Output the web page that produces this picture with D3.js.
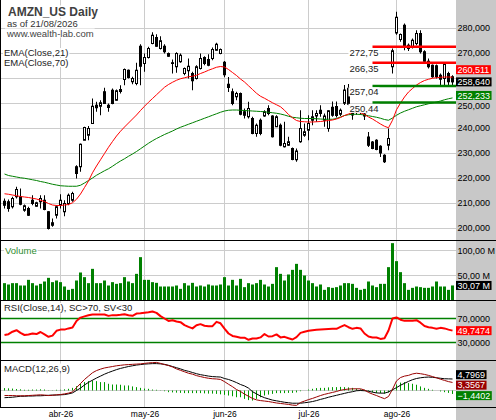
<!DOCTYPE html>
<html lang="en">
<head>
<meta charset="UTF-8">
<title>AMZN_US Daily</title>
<style>
  body { margin: 0; background: #fff; }
  svg { display: block; font-family: "Liberation Sans", Arial, sans-serif; }
</style>
<script src="https://d3js.org/d3.v7.min.js"></script>
</head>
<body>
<svg width="496" height="420"></svg>
<script>
// trading days shown on the chart
const dates = [
  "2026-03-12","2026-03-13","2026-03-16","2026-03-17","2026-03-18","2026-03-19","2026-03-20","2026-03-23","2026-03-24","2026-03-25",
  "2026-03-26","2026-03-27","2026-03-30","2026-03-31","2026-04-01","2026-04-02","2026-04-06","2026-04-07","2026-04-08","2026-04-09",
  "2026-04-10","2026-04-13","2026-04-14","2026-04-15","2026-04-16","2026-04-17","2026-04-20","2026-04-21","2026-04-22","2026-04-23",
  "2026-04-24","2026-04-27","2026-04-28","2026-04-29","2026-04-30","2026-05-01","2026-05-04","2026-05-05","2026-05-06","2026-05-07",
  "2026-05-08","2026-05-11","2026-05-12","2026-05-13","2026-05-14","2026-05-15","2026-05-18","2026-05-19","2026-05-20","2026-05-21",
  "2026-05-22","2026-05-26","2026-05-27","2026-05-28","2026-05-29","2026-06-01","2026-06-02","2026-06-03","2026-06-04","2026-06-05",
  "2026-06-08","2026-06-09","2026-06-10","2026-06-11","2026-06-12","2026-06-15","2026-06-16","2026-06-17","2026-06-18","2026-06-22",
  "2026-06-23","2026-06-24","2026-06-25","2026-06-26","2026-06-29","2026-06-30","2026-07-01","2026-07-02","2026-07-06","2026-07-07",
  "2026-07-08","2026-07-09","2026-07-10","2026-07-13","2026-07-14","2026-07-15","2026-07-16","2026-07-17","2026-07-20","2026-07-21",
  "2026-07-22","2026-07-23","2026-07-24","2026-07-27","2026-07-28","2026-07-29","2026-07-30","2026-07-31","2026-08-03","2026-08-04",
  "2026-08-05","2026-08-06","2026-08-07","2026-08-10","2026-08-11","2026-08-12","2026-08-13","2026-08-14","2026-08-17","2026-08-18",
  "2026-08-19","2026-08-20","2026-08-21"
];

const open = [
  210.9,210.7,208.7,212.7,212.7,207.3,208.0,211.3,208.9,210.7,
  211.3,206.7,202.3,205.3,209.3,206.7,210.0,211.3,224.7,224.7,
  235.3,237.3,242.0,249.3,248.9,254.7,249.3,255.3,251.3,255.6,
  259.6,263.3,258.7,258.0,272.9,266.0,268.4,274.0,276.4,272.0,
  272.9,270.0,266.3,264.7,266.7,262.0,263.1,262.0,260.0,264.0,
  268.4,267.6,268.0,271.3,270.0,266.5,257.7,254.7,252.7,254.0,
  246.7,244.7,244.0,238.0,243.3,245.0,248.0,245.0,240.7,241.3,
  232.7,233.3,232.0,227.5,234.7,237.3,239.3,243.3,245.0,247.3,
  243.3,240.0,248.5,248.8,245.7,250.1,256.1,246.1,246.5,247.5,
  245.8,236.6,234.6,235.3,232.9,229.3,233.3,264.7,278.2,275.6,
  281.3,273.3,272.7,274.0,278.0,270.7,266.9,265.3,265.1,261.3,
  260.0,262.0,260.7
];
const high = [
  212.0,211.6,212.7,216.7,216.0,209.6,208.7,213.3,210.7,213.3,
  213.3,206.9,204.0,209.3,213.7,211.3,214.0,214.7,225.3,234.0,
  240.7,241.0,252.0,250.7,251.3,256.3,250.0,256.0,255.6,257.3,
  264.0,263.6,260.7,266.3,273.7,270.0,272.7,278.5,277.7,276.9,
  273.7,270.4,267.6,270.5,270.0,264.4,268.0,262.7,265.3,270.0,
  268.9,269.7,272.4,274.3,272.0,267.0,260.6,256.0,254.7,254.4,
  248.0,250.7,244.7,242.0,244.0,247.3,249.3,245.3,245.3,242.0,
  242.7,236.7,232.4,232.0,247.3,242.0,245.3,247.3,247.3,249.3,
  246.0,247.3,250.8,250.8,248.0,257.4,257.8,247.5,248.5,248.5,
  246.1,238.6,235.0,235.7,233.3,229.7,240.0,272.0,286.7,278.0,
  282.0,274.0,276.0,279.3,279.3,271.3,268.0,265.6,265.6,262.0,
  266.0,262.7,261.3
];
const low = [
  208.0,206.7,208.0,212.0,209.3,206.7,205.0,209.3,208.7,208.0,
  207.3,199.6,200.7,204.0,208.0,204.9,209.3,210.7,220.0,222.7,
  235.3,235.3,242.0,246.7,245.3,250.0,246.7,249.7,251.1,254.0,
  257.3,260.0,257.7,257.3,257.3,262.7,268.0,273.7,272.7,271.6,
  270.0,268.7,262.0,262.3,266.3,261.3,260.0,255.3,259.6,263.6,
  265.3,264.9,267.3,271.1,269.7,260.5,254.6,249.3,251.3,245.3,
  244.0,244.0,237.7,236.7,237.3,244.7,245.3,236.4,240.7,232.9,
  232.4,233.0,227.3,226.7,234.3,236.7,235.3,241.3,242.7,244.7,
  240.7,238.7,244.7,244.4,245.0,249.4,249.3,243.5,245.5,245.5,
  243.4,232.6,231.7,231.3,228.6,226.2,231.3,262.0,277.5,274.7,
  271.3,271.0,272.0,273.3,270.0,266.7,264.0,260.3,260.0,256.7,
  257.3,256.7,257.3
];
const close = [
  209.3,208.0,212.0,215.6,209.7,209.1,205.3,210.0,210.3,212.0,
  207.6,200.0,201.3,208.7,211.3,210.0,213.3,214.0,222.0,233.7,
  240.4,240.0,248.9,248.3,250.3,250.0,248.4,250.0,255.1,254.8,
  263.6,260.4,260.0,263.3,264.9,268.4,272.0,277.3,272.9,275.1,
  270.7,268.9,266.0,270.0,269.3,264.0,264.9,259.1,264.7,268.0,
  266.0,265.3,271.6,273.7,271.6,261.5,256.4,250.0,254.0,245.7,
  245.3,248.0,238.0,241.3,238.0,246.7,246.0,236.7,244.7,233.3,
  234.0,234.7,227.6,231.0,240.0,238.7,242.0,244.7,246.0,246.0,
  245.0,247.1,245.3,245.2,247.3,255.4,249.7,245.4,247.5,246.7,
  245.0,233.3,232.0,231.6,230.2,226.7,236.0,271.1,284.5,277.6,
  272.7,272.0,275.3,278.0,270.7,266.9,264.7,260.7,260.7,259.7,
  265.6,258.7,258.64
];
// millions of shares
const volume = [
  34.7,32.0,34.7,34.7,30.0,30.0,41.3,34.7,30.0,33.3,
  38.0,45.3,36.7,40.0,36.7,28.0,21.3,23.3,40.0,56.0,
  46.7,34.7,63.3,34.7,34.7,40.0,30.0,36.7,33.3,34.7,
  46.7,38.0,34.7,53.3,86.7,41.3,41.3,36.7,35.3,28.0,
  28.0,28.0,28.0,30.0,23.3,34.7,30.0,35.3,28.0,30.0,
  28.0,32.0,30.0,30.0,32.0,46.7,30.0,41.3,30.0,43.3,
  26.7,34.7,32.0,34.7,41.3,32.0,28.0,33.3,66.7,53.3,
  40.0,52.0,61.3,73.3,61.3,50.0,40.0,34.7,28.0,32.0,
  21.3,26.7,25.3,26.7,30.0,34.7,34.7,33.3,25.3,21.3,
  23.3,38.0,30.0,26.7,33.3,33.3,66.7,114.7,78.7,56.7,
  34.7,21.3,25.3,28.0,26.7,25.3,25.3,28.0,38.0,28.0,
  28.0,21.3,30.07
];
const ema21 = [
  213.9,213.7,213.4,213.1,212.8,212.6,212.4,212.1,211.8,211.3,
  210.8,210.0,209.4,209.2,209.2,209.4,209.6,210.3,211.7,213.8,
  216.4,219.0,222.3,225.0,227.5,230.0,232.5,234.8,237.0,238.9,
  240.6,242.2,243.8,245.4,247.2,248.9,250.5,252.0,253.5,255.0,
  256.5,257.6,258.5,259.3,259.9,260.3,260.7,260.9,261.3,262.0,
  262.6,263.3,263.9,264.5,264.8,264.6,263.6,262.4,261.2,259.8,
  258.6,257.1,255.6,254.1,252.9,252.1,251.2,250.3,249.5,248.7,
  247.3,245.6,244.3,243.2,242.8,242.7,242.6,242.6,242.7,242.8,
  243.0,243.2,243.4,243.8,244.4,245.2,245.8,246.4,246.5,246.3,
  245.6,244.6,243.8,242.8,241.8,240.9,240.3,243.3,247.5,250.2,
  252.6,254.6,256.0,257.4,258.4,259.2,259.7,260.1,260.3,260.5,
  260.6,260.6,260.511
];
const ema70 = [
  221.8,221.2,220.9,220.6,220.3,220.1,219.8,219.5,219.2,218.8,
  218.5,218.1,217.7,217.4,217.1,217.0,216.9,216.9,216.9,217.3,
  218.2,219.2,220.2,221.3,222.2,223.1,223.9,224.9,226.0,227.0,
  227.9,228.9,229.8,230.8,231.9,233.0,234.1,235.1,236.0,236.8,
  237.6,238.3,239.0,239.8,240.5,241.1,241.7,242.3,242.9,243.5,
  244.1,244.7,245.3,245.9,246.5,247.0,247.3,247.4,247.4,247.3,
  247.2,247.1,247.0,246.9,246.8,246.7,246.5,246.3,246.1,245.8,
  245.4,244.9,244.5,244.3,244.1,244.0,244.0,244.0,243.9,243.8,
  243.7,243.7,243.7,244.0,244.6,245.2,245.5,245.7,245.7,245.6,
  245.4,245.1,244.8,244.5,244.1,243.6,243.3,244.2,245.3,246.2,
  246.9,247.5,248.1,248.7,249.1,249.5,249.9,250.2,250.6,251.0,
  251.5,251.9,252.233
];
const rsi = [
  42.5,43.9,48.0,50.5,46.0,42.5,43.5,45.0,44.0,47.5,
  43.5,39.5,41.5,49.5,51.5,51.5,53.5,55.0,66.0,71.5,
  73.5,75.5,76.7,76.7,76.7,76.7,74.4,75.6,75.5,76.1,
  77.0,75.5,74.4,78.3,78.6,79.5,80.5,81.7,79.4,74.0,
  70.0,66.0,67.0,65.0,63.9,59.0,56.1,53.5,58.9,60.6,
  58.0,57.2,57.2,64.4,62.0,53.3,45.0,41.0,39.7,38.0,
  38.0,34.5,36.7,36.7,38.5,44.0,40.0,40.5,43.5,38.5,
  39.4,37.0,35.0,39.0,46.0,47.8,49.5,50.6,51.3,51.7,
  52.2,52.5,52.8,52.8,56.0,59.0,55.5,52.8,54.4,53.5,
  45.0,40.0,38.3,38.3,36.0,37.0,50.0,70.0,71.7,68.0,
  66.1,66.1,66.1,67.2,63.0,57.5,55.5,54.4,53.0,54.4,
  53.5,51.5,49.7474
];
const macd = [
  -2.1,-2.1,-2.1,-2.2,-2.2,-2.2,-2.1,-2.0,-1.9,-1.8,
  -1.9,-2.1,-2.0,-1.8,-1.7,-1.4,-1.1,-0.6,1.2,2.9,
  4.6,6.0,7.4,8.3,8.9,9.4,9.7,10.0,10.3,10.5,
  10.7,10.8,10.9,11.0,11.1,11.3,11.5,11.6,11.7,11.3,
  10.8,10.4,9.8,9.0,8.4,7.8,7.2,6.8,6.2,5.8,
  5.4,5.1,4.9,4.8,4.6,3.7,2.6,1.6,0.4,-0.4,
  -1.5,-2.4,-3.3,-3.9,-4.2,-4.4,-4.6,-4.9,-5.2,-5.4,
  -5.6,-5.8,-6.1,-6.2,-5.0,-4.4,-3.8,-3.3,-2.7,-2.1,
  -1.6,-1.2,-0.8,-0.4,0.1,0.4,0.6,0.7,0.7,0.7,
  0.2,-0.8,-1.5,-2.1,-2.8,-3.4,-2.5,0.5,4.0,5.4,
  6.0,6.3,6.9,7.2,7.0,6.7,6.3,5.8,5.3,4.7,
  4.2,3.7,3.3567
];
const macdSignal = [
  -3.0,-2.9,-2.8,-2.6,-2.4,-2.4,-2.3,-2.3,-2.2,-2.2,
  -2.1,-2.0,-1.9,-1.9,-1.8,-1.7,-1.4,-1.0,0.0,1.0,
  2.3,3.4,4.3,5.2,6.0,6.8,7.5,8.1,8.7,9.2,
  9.6,10.0,10.3,10.6,10.8,11.0,11.1,11.2,11.2,11.1,
  10.9,10.5,10.0,9.5,9.0,8.4,8.0,7.5,7.0,6.6,
  6.3,6.0,5.8,5.7,5.6,5.0,4.6,4.0,3.3,2.5,
  1.9,1.0,-0.5,-1.4,-2.3,-3.0,-3.5,-4.0,-4.3,-4.6,
  -4.9,-5.1,-5.3,-5.3,-5.3,-5.1,-4.9,-4.6,-4.2,-3.7,
  -3.3,-2.8,-2.4,-2.0,-1.6,-1.2,-0.8,-0.5,-0.1,0.0,
  -0.1,-0.3,-0.7,-1.0,-1.1,-1.1,-0.6,0.3,1.2,2.2,
  3.0,3.8,4.5,5.0,5.3,5.5,5.6,5.5,5.3,5.1,
  4.9,4.85,4.7969
];
const macdHist = [
  1.0,0.9,0.8,0.6,0.5,0.3,0.3,0.4,0.4,0.5,
  0.4,0.1,0.1,0.3,0.3,0.5,0.7,1.1,1.8,2.8,
  3.5,3.9,4.2,3.9,3.5,3.5,2.8,2.5,2.5,2.4,
  2.1,2.1,1.7,1.4,1.1,0.8,0.7,0.4,0.3,0.1,
  -0.3,-0.7,-0.8,-0.9,-1.0,-1.1,-1.1,-1.1,-1.1,-1.1,
  -1.2,-1.3,-1.3,-1.4,-1.6,-1.8,-2.1,-2.4,-2.8,-2.8,
  -3.5,-4.0,-4.2,-3.5,-2.8,-2.1,-1.7,-1.4,-1.1,-1.1,
  -1.1,-1.0,-1.0,-0.8,-0.3,0.0,0.4,0.7,1.0,1.1,
  1.1,1.3,1.4,1.4,1.5,1.4,1.3,1.1,0.8,0.5,
  0.3,-0.4,-0.7,-1.0,-1.1,-1.3,-0.8,0.7,2.5,3.3,
  3.5,3.1,2.8,2.4,1.7,1.1,0.7,0.3,0.0,-0.4,
  -0.7,-1.0,-1.4402
];

// support / resistance levels drawn on the right
const levels = [272.75, 266.35, 257.04, 250.44];
const levelColors = ["#ff0000", "#ff0000", "#008000", "#008000"];
const levelFrom = "2026-07-24";

// axis ticks
const priceTicks = [200, 210, 220, 230, 240, 250, 260, 270, 280];
const volumeTicks = [50, 100];
const rsiTicks = [30, 70];
const monthTicks = ["2026-04-01", "2026-05-01", "2026-06-01", "2026-07-01", "2026-08-03"];
const monthLabels = ["abr-26", "may-26", "jun-26", "jul-26", "ago-26"];

[open, high, low, close, volume, ema21, ema70, rsi, macd, macdSignal, macdHist].forEach((a, k) => {
  if (a.length !== dates.length) throw new Error("series " + k + " has " + a.length + " values, expected " + dates.length);
});

const W = 496, H = 420;
const plotRight = 456;
const panels = {
  price: [0, 240.5],
  volume: [240.5, 300.5],
  rsi: [300.5, 360.5],
  macd: [360.5, 407.5]
};
const gridColor = "#cccccc";
const loc = d3.formatLocale({decimal: ",", thousands: ".", grouping: [3], currency: ["", ""]});
const f3 = loc.format(".3f"), f2 = loc.format(".2f"), f4 = loc.format(".4f");

const svg = d3.select("svg").attr("width", W).attr("height", H);

const x = d3.scalePoint().domain(dates).range([4.5, 452.5]);
const y = d3.scaleLinear().domain([200, 280]).range([228.5, 28.5]);
const yVol = d3.scaleLinear().domain([0, 100]).range([300.5, 250.5]);
const yRsi = d3.scaleLinear().domain([0, 100]).range([360.5, 300.5]);
const yMacd = d3.scaleLinear().domain([0, 5]).range([390.5, 378.5]);

svg.append("rect").attr("width", W).attr("height", H).attr("fill", "#fff");
svg.append("rect").attr("x", plotRight).attr("y", 0).attr("width", W - plotRight).attr("height", H).attr("fill", "#c8c8c8");

Object.entries(panels).forEach(([k, [t, b]]) => {
  svg.append("clipPath").attr("id", "clip-" + k)
    .append("rect").attr("x", 0).attr("y", t).attr("width", plotRight).attr("height", b - t);
});

// vertical month gridlines
svg.append("g").selectAll("line").data(monthTicks).join("line")
  .attr("x1", d => x(d)).attr("x2", d => x(d))
  .attr("y1", 0).attr("y2", panels.macd[1])
  .attr("stroke", gridColor);

// horizontal gridlines
const hgrid = svg.append("g").attr("stroke", gridColor);
hgrid.selectAll(".p").data(priceTicks).join("line").attr("class", "p")
  .attr("x1", 0).attr("x2", plotRight).attr("y1", d => y(d)).attr("y2", d => y(d));
hgrid.selectAll(".v").data(volumeTicks).join("line").attr("class", "v")
  .attr("x1", 0).attr("x2", plotRight).attr("y1", d => yVol(d)).attr("y2", d => yVol(d));
hgrid.append("line").attr("x1", 0).attr("x2", plotRight).attr("y1", yMacd(0)).attr("y2", yMacd(0));

// ---- price panel
const gPrice = svg.append("g").attr("clip-path", "url(#clip-price)");
const candle = gPrice.selectAll("g.c").data(dates).join("g").attr("class", "c");
candle.append("line")
  .attr("x1", d => x(d)).attr("x2", d => x(d))
  .attr("y1", (d, i) => y(high[i])).attr("y2", (d, i) => y(low[i]))
  .attr("stroke", "#000");
candle.append("rect")
  .attr("x", d => x(d) - 1).attr("width", 2)
  .attr("y", (d, i) => y(Math.max(open[i], close[i])))
  .attr("height", (d, i) => Math.max(0.5, Math.abs(y(open[i]) - y(close[i]))))
  .attr("fill", (d, i) => close[i] >= open[i] ? "#fff" : "#000")
  .attr("stroke", "#000");

const lineOf = (arr, sc) => d3.line().x((d, i) => x(dates[i])).y(d => sc(d))(arr);
gPrice.append("path").attr("d", lineOf(ema70, y)).attr("fill", "none").attr("stroke", "#008000");
gPrice.append("path").attr("d", lineOf(ema21, y)).attr("fill", "none").attr("stroke", "#ff0000");

// levels
levels.forEach((v, k) => {
  gPrice.append("line")
    .attr("x1", x(levelFrom)).attr("x2", plotRight)
    .attr("y1", y(v)).attr("y2", y(v))
    .attr("stroke", levelColors[k]).attr("stroke-width", 2.5);
});

// ---- volume panel
svg.append("g").attr("clip-path", "url(#clip-volume)")
  .selectAll("rect").data(dates).join("rect")
  .attr("x", d => x(d) - 1.5).attr("width", 3)
  .attr("y", (d, i) => yVol(volume[i]))
  .attr("height", (d, i) => yVol(0) - yVol(volume[i]))
  .attr("fill", "#008000");

// ---- RSI panel
const gRsi = svg.append("g").attr("clip-path", "url(#clip-rsi)");
gRsi.selectAll("line").data(rsiTicks).join("line")
  .attr("x1", 0).attr("x2", plotRight).attr("y1", d => yRsi(d)).attr("y2", d => yRsi(d))
  .attr("stroke", "#008000").attr("stroke-width", 1.5);
gRsi.append("path").attr("d", lineOf(rsi, yRsi)).attr("fill", "none")
  .attr("stroke", "#ff0000").attr("stroke-width", 2).attr("stroke-linejoin", "round");

// ---- MACD panel
const gMacd = svg.append("g").attr("clip-path", "url(#clip-macd)");
gMacd.selectAll("line").data(dates).join("line")
  .attr("x1", d => x(d)).attr("x2", d => x(d))
  .attr("y1", yMacd(0)).attr("y2", (d, i) => yMacd(macdHist[i]))
  .attr("stroke", "#009900");
gMacd.append("path").attr("d", lineOf(macdSignal, yMacd)).attr("fill", "none").attr("stroke", "#000");
gMacd.append("path").attr("d", lineOf(macd, yMacd)).attr("fill", "none").attr("stroke", "#990000");

// ---- labels with white backing
function label(xp, yp, txt, opts = {}) {
  const g = svg.append("g");
  const r = g.append("rect").attr("fill", "#fff");
  const t = g.append("text").attr("x", xp).attr("y", yp)
    .attr("font-size", opts.size || 9.5)
    .attr("font-weight", opts.weight || "normal")
    .attr("text-anchor", opts.anchor || "start")
    .attr("fill", opts.color || "#222").text(txt);
  const b = t.node().getBBox();
  r.attr("x", b.x - 1).attr("y", b.y + 1).attr("width", b.width + 2).attr("height", b.height - 2);
}
label(8, 15.5, "AMZN_US Daily", {size: 12, weight: "bold", color: "#404040"});
label(7, 26.5, "as of 21/08/2026", {color: "#333"});
label(7, 36.5, "www.wealth-lab.com", {color: "#444"});
label(4, 56, "EMA(Close,21)");
label(4, 66, "EMA(Close,70)");
label(5, 253.5, "Volume", {color: "#2e8b2e"});
label(4, 311, "RSI(Close,14), SC>70, SV<30");
label(4, 371.5, "MACD(12,26,9)");
levels.forEach(v => label(x(levelFrom) + 6, y(v) + 9.5, loc.format(".2f")(v), {anchor: "end"}));

// ---- panel borders
const borders = svg.append("g").attr("stroke", "#000");
[panels.price[1], panels.volume[1], panels.rsi[1], panels.macd[1]].forEach(v => {
  borders.append("line").attr("x1", 0).attr("x2", W).attr("y1", v).attr("y2", v);
});
borders.append("line").attr("x1", 0.5).attr("x2", 0.5).attr("y1", 0).attr("y2", panels.macd[1]);

// ---- last-value boxes; stacked so they do not sit on one another
const last = dates.length - 1;
const boxGap = 10.5;
function spread(items) {
  items.forEach(d => d.c = d.y);
  for (let it = 0; it < 30; it++) {
    for (let k = 0; k < items.length - 1; k++) {
      const a = items[k], b = items[k + 1];
      const deficit = boxGap - (b.c - a.c);
      if (deficit > 0) {
        if (a.fixed) b.c += deficit;
        else if (b.fixed) a.c -= deficit;
        else { a.c -= deficit / 2; b.c += deficit / 2; }
      }
    }
  }
  return items;
}
const priceBoxes = spread([
  {y: y(ema21[last]), txt: f3(ema21[last]), fill: "#ff0000"},
  {y: y(close[last]), txt: f3(close[last]), fill: "#000", fixed: true},
  {y: y(ema70[last]), txt: f3(ema70[last]), fill: "#008000"}
]);
const macdBoxes = spread([
  {y: yMacd(macdSignal[last]), txt: f4(macdSignal[last]), fill: "#000"},
  {y: yMacd(macd[last]), txt: f4(macd[last]), fill: "#990000"},
  {y: yMacd(macdHist[last]), txt: f4(macdHist[last]), fill: "#008000"}
]);
const otherBoxes = [
  {c: yVol(volume[last]), txt: f2(volume[last]) + " M", fill: "#000"},
  {c: yRsi(rsi[last]), txt: f4(rsi[last]), fill: "#ff0000"}
];

// price tick labels: hide the ones a box covers, share the room with near ones
const priceLabels = [];
priceTicks.forEach(t => {
  let pos = y(t), hidden = false;
  priceBoxes.forEach(b => {
    const d = pos - b.c;
    if (Math.abs(d) < 5) hidden = true;
    else if (Math.abs(d) < boxGap) {
      const half = (boxGap - Math.abs(d)) / 2, s = Math.sign(d);
      b.c -= s * half;
      pos += s * half;
    }
  });
  if (!hidden) priceLabels.push({t, pos});
});
const gAxis = svg.append("g").attr("font-size", 9).attr("fill", "#000");
gAxis.selectAll("text").data(priceLabels).join("text")
  .attr("x", plotRight + 1.5).attr("y", d => d.pos).attr("dy", "0.32em")
  .text(d => f3(d.t));

function rightAxis(sc, ticks, fmt) {
  svg.append("g").attr("transform", `translate(${plotRight},0)`)
    .call(d3.axisRight(sc).tickValues(ticks).tickSize(0).tickPadding(1.5).tickFormat(fmt))
    .call(g => g.select(".domain").remove())
    .attr("font-family", null).attr("font-size", 9)
    .selectAll("text").attr("fill", "#000");
}
rightAxis(yVol, volumeTicks, d => f2(d) + " M");
rightAxis(yRsi, rsiTicks, f4);

// date axis
svg.append("g").attr("transform", `translate(0,${panels.macd[1]})`)
  .call(d3.axisBottom(x).tickValues(monthTicks).tickSize(0).tickPadding(3.5)
    .tickFormat((d, i) => monthLabels[i]))
  .call(g => g.select(".domain").remove())
  .attr("font-family", null).attr("font-size", 8.5)
  .selectAll("text").attr("fill", "#000");

function valueBox(b) {
  const g = svg.append("g");
  const r = g.append("rect").attr("fill", b.fill);
  const t = g.append("text").attr("x", plotRight + 1.5).attr("y", b.c).attr("dy", "0.34em")
    .attr("font-size", 9).attr("fill", "#fff").text(b.txt);
  const w = t.node().getComputedTextLength();
  r.attr("x", plotRight).attr("y", b.c - 4.5).attr("width", w + 3).attr("height", 9);
}
[...priceBoxes, ...otherBoxes, ...macdBoxes].forEach(valueBox);
</script>
</body>
</html>
